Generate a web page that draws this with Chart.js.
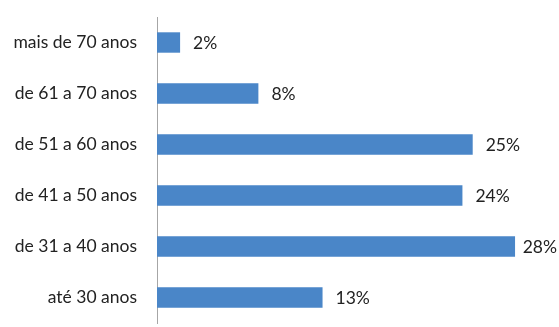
<!DOCTYPE html>
<html lang="pt">
<head>
    <meta charset="UTF-8">
    <title>Faixa etária</title>
    <script src="https://cdn.jsdelivr.net/npm/chart.js"></script>
    <style>
        body { margin: 0; background: #fff; }
    </style>
</head>
<body>
<canvas id="chart" width="559" height="327"></canvas>

<script>
    const categories = ['mais de 70 anos', 'de 61 a 70 anos', 'de 51 a 60 anos', 'de 41 a 50 anos', 'de 31 a 40 anos', 'até 30 anos'];
    const values = [1.8, 7.9, 24.6, 23.8, 27.9, 12.9];
    const valueLabels = ['2%', '8%', '25%', '24%', '28%', '13%'];

    const fontFamily = 'Lato, "Open Sans", sans-serif';

    // percentage text to the right of each bar
    const barLabels = {
        id: 'barLabels',
        afterDatasetsDraw(chart) {
            const ctx = chart.ctx;
            const meta = chart.getDatasetMeta(0);
            ctx.save();
            ctx.font = '17.5px ' + fontFamily;
            ctx.fillStyle = '#222';
            ctx.textBaseline = 'middle';
            meta.data.forEach((bar, i) => {
                const w = ctx.measureText(valueLabels[i]).width;
                const x = Math.min(bar.x + 13, chart.width - w - 2);
                ctx.fillText(valueLabels[i], x, bar.y + 1);
            });
            ctx.restore();
        }
    };

    new Chart(document.getElementById('chart'), {
        type: 'bar',
        data: {
            labels: categories,
            datasets: [{
                data: values,
                backgroundColor: '#4a86c8',
                categoryPercentage: 0.8,
                barPercentage: 0.5
            }]
        },
        plugins: [barLabels],
        options: {
            indexAxis: 'y',
            responsive: false,
            animation: false,
            layout: { padding: { top: 17, bottom: 4, right: 17, left: 0 } },
            plugins: {
                legend: { display: false },
                tooltip: { enabled: false }
            },
            scales: {
                x: { display: false, min: 0, max: 30 },
                y: {
                    grid: { display: false, drawTicks: false },
                    border: { display: true, color: '#a6a6a6', width: 1 },
                    ticks: {
                        color: '#222',
                        padding: 20,
                        font: { family: fontFamily, size: 17.5 }
                    },
                    afterFit(scale) {
                        scale.width = 157;
                        scale.paddingTop = 0;
                        scale.paddingBottom = 0;
                    }
                }
            }
        }
    });
</script>
</body>
</html>
